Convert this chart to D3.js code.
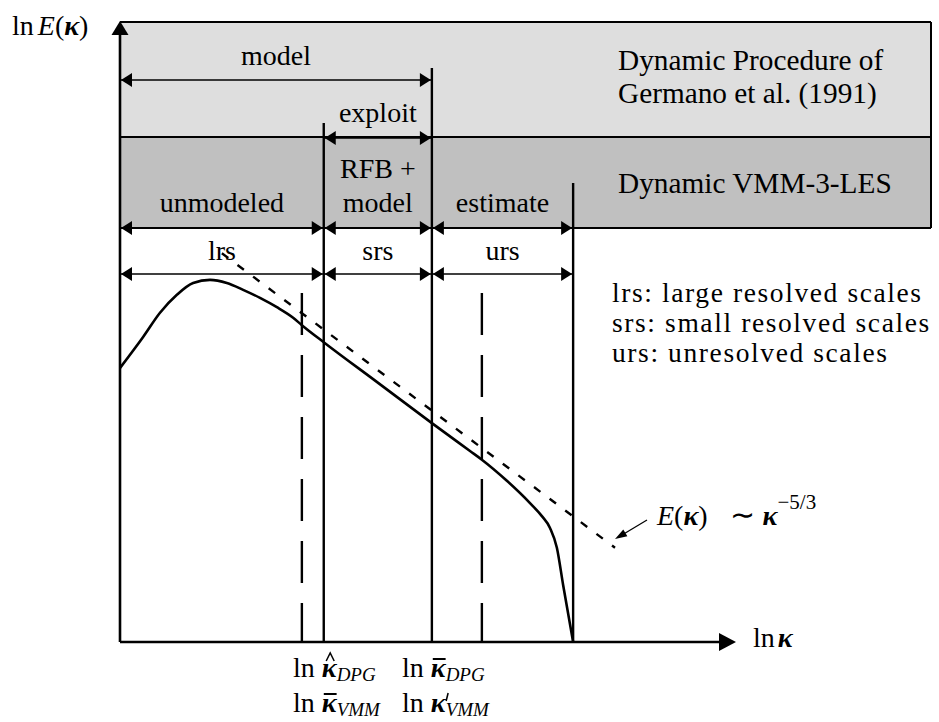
<!DOCTYPE html>
<html><head><meta charset="utf-8">
<script src="https://cdn.jsdelivr.net/npm/d3@7"></script>
<style>html,body{margin:0;padding:0;background:#fff}svg{display:block}</style>
</head><body>
<svg id="chart" width="939" height="722"></svg>
<script>
// Schematic energy spectrum with the scale partitions used by the dynamic
// procedure (DPG) and by the dynamic VMM-3-LES.

// Energy spectrum (solid curve): ln κ and ln E(κ)
const lnK = [0, 0.37, 0.64, 0.91, 1.17, 1.44, 1.71, 1.97, 2.24, 2.51, 2.77, 2.91,
             3.28, 4.13, 4.99, 5.60, 5.79, 6.19, 6.56, 6.75, 6.88, 6.99, 7.09, 7.25];
const lnE = [4.42, 4.92, 5.31, 5.60, 5.79, 5.84, 5.79, 5.68, 5.55, 5.40, 5.23, 5.11,
             4.82, 4.18, 3.53, 3.08, 2.94, 2.60, 2.24, 2.03, 1.84, 1.52, 0.92, 0];

// Inertial-range reference E(κ) ~ κ^(-5/3)
const refK = [1.63, 7.92];
const refE = [6.27, 1.52];

// Cut-off wavenumbers (ln κ): κ̄_VMM, κ̄_DPG = κ'_VMM, κ_max
const solidCuts = [3.26, 4.99, 7.25];
// Cut-offs drawn dashed
const dashedCuts = [2.91, 5.79];
const dashedTop = 5.63;

// Interval labels
const dpgLabels = ["model", "exploit"];
const dpgFrom = [0, 3.26];
const dpgTo = [4.99, 4.99];
const vmmLabels = [["unmodeled"], ["RFB +", "model"], ["estimate"]];
const scaleLabels = ["lrs", "srs", "urs"];
const legendLines = ["lrs: large resolved scales", "srs: small resolved scales", "urs: unresolved scales"];
const bandTitles = [["Dynamic Procedure of", "Germano et al. (1991)"], ["Dynamic VMM-3-LES"]];

const FONT = "'Liberation Serif', 'Times New Roman', serif";
const svg = d3.select("#chart");
svg.append("rect").attr("width", 939).attr("height", 722).attr("fill", "#fff");

const x = d3.scaleLinear().domain([0, 10]).range([120, 745]);
const y = d3.scaleLinear().domain([0, 10]).range([642, 22]);

const bandLeft = 120, bandRight = 931;
const bandTop = 22, bandMid = 137, bandBottom = 228;
const rowModel = 80, rowExploit = 138, rowVMM = 228, rowScales = 274;

// shaded bands
svg.append("rect").attr("x", bandLeft).attr("y", bandTop).attr("width", bandRight - bandLeft)
  .attr("height", bandMid - bandTop).attr("fill", "#dedede");
svg.append("rect").attr("x", bandLeft).attr("y", bandMid).attr("width", bandRight - bandLeft)
  .attr("height", bandBottom - bandMid).attr("fill", "#c0c0c0");
const border = svg.append("g").attr("stroke", "#000").attr("stroke-width", 2).attr("fill", "none");
[bandTop, bandMid, bandBottom].forEach(yy =>
  border.append("line").attr("x1", bandLeft).attr("x2", bandRight).attr("y1", yy).attr("y2", yy));
border.append("line").attr("x1", bandRight).attr("x2", bandRight).attr("y1", bandTop).attr("y2", bandBottom);

// spectrum
const pts = lnK.map((k, i) => [k, lnE[i]]);
svg.append("path").datum(pts)
  .attr("d", d3.line().x(d => x(d[0])).y(d => y(d[1])).curve(d3.curveMonotoneX))
  .attr("fill", "none").attr("stroke", "#000").attr("stroke-width", 2.6);

// -5/3 reference
svg.append("line")
  .attr("x1", x(refK[0])).attr("y1", y(refE[0]))
  .attr("x2", x(refK[1])).attr("y2", y(refE[1]))
  .attr("stroke", "#000").attr("stroke-width", 2.4).attr("stroke-dasharray", "8 11.5");

// dashed cut-offs
dashedCuts.forEach(k => svg.append("line")
  .attr("x1", x(k)).attr("x2", x(k)).attr("y1", y(dashedTop)).attr("y2", y(0))
  .attr("stroke", "#000").attr("stroke-width", 2.4).attr("stroke-dasharray", "42 20"));

// solid cut-offs
const cutTops = [123, 68, 183];
solidCuts.forEach((k, i) => svg.append("line")
  .attr("x1", x(k)).attr("x2", x(k)).attr("y1", cutTops[i]).attr("y2", y(0))
  .attr("stroke", "#000").attr("stroke-width", 2.4));

function head(tipX, tipY, dx, dy, len, hw) {
  const bx = tipX - dx * len, by = tipY - dy * len;
  const px = -dy, py = dx;
  svg.append("path")
    .attr("d", `M${tipX},${tipY}L${bx + px * hw},${by + py * hw}L${bx - px * hw},${by - py * hw}Z`)
    .attr("fill", "#000");
}
function dblArrow(k1, k2, yy, sw) {
  const x1 = x(k1), x2 = x(k2);
  svg.append("line").attr("x1", x1).attr("x2", x2).attr("y1", yy).attr("y2", yy)
    .attr("stroke", "#000").attr("stroke-width", sw);
  head(x1 + 1, yy, -1, 0, 11, 7);
  head(x2 - 1, yy, 1, 0, 11, 7);
}

// axes
svg.append("line").attr("x1", x(0)).attr("x2", x(0)).attr("y1", y(0)).attr("y2", 30)
  .attr("stroke", "#000").attr("stroke-width", 2.6);
head(x(0), 21, 0, -1, 14, 8.5);
svg.append("line").attr("x1", x(0)).attr("x2", 725).attr("y1", y(0)).attr("y2", y(0))
  .attr("stroke", "#000").attr("stroke-width", 2.6);
head(736, y(0), 1, 0, 17, 9);

function txt(xx, yy, anchor, size) {
  return svg.append("text").attr("x", xx).attr("y", yy).attr("text-anchor", anchor || "start")
    .attr("font-family", FONT).attr("font-size", size || 28).attr("fill", "#000");
}

// DPG row arrows and labels
dpgLabels.forEach((lab, i) => {
  const yy = i === 0 ? rowModel : rowExploit;
  dblArrow(dpgFrom[i], dpgTo[i], yy, 1.3);
  txt((x(dpgFrom[i]) + x(dpgTo[i])) / 2, i === 0 ? 65 : 122, "middle").text(lab);
});

// VMM row and scale row
const bounds = [0, ...solidCuts];
vmmLabels.forEach((lines, i) => {
  const cx = (x(bounds[i]) + x(bounds[i + 1])) / 2;
  dblArrow(bounds[i], bounds[i + 1], rowVMM, 2);
  lines.forEach((l, j) => txt(cx, 212 - (lines.length - 1 - j) * 34, "middle").text(l));
});
scaleLabels.forEach((lab, i) => {
  const cx = (x(bounds[i]) + x(bounds[i + 1])) / 2;
  dblArrow(bounds[i], bounds[i + 1], rowScales, 1.3);
  txt(cx, 260, "middle").text(lab);
});

// band titles
txt(618, 70, "start", 29.3).text(bandTitles[0][0]);
txt(618, 103, "start", 29.3).text(bandTitles[0][1]);
txt(618, 193, "start", 29.3).text(bandTitles[1][0]);

// legend
legendLines.forEach((l, i) => txt(612, 302 + i * 30, "start", 27.5)
  .attr("letter-spacing", 1.6).text(l));

// axis titles
const yl = txt(12, 35);
yl.append("tspan").text("ln");
yl.append("tspan").attr("dx", 4).attr("font-style", "italic").text("E");
yl.append("tspan").text("(");
yl.append("tspan").attr("font-style", "italic").attr("font-weight", "bold").text("κ");
yl.append("tspan").text(")");

const xl = txt(753, 647);
xl.append("tspan").text("ln");
xl.append("tspan").attr("dx", 3).attr("font-style", "italic").attr("font-weight", "bold").text("κ");

// cut-off labels
function kLabel(xx, base, accent, sub) {
  const t = txt(xx, base);
  t.append("tspan").text("ln");
  t.append("tspan").attr("dx", 7).attr("font-style", "italic").attr("font-weight", "bold").text("κ");
  t.append("tspan").attr("dy", 4).attr("font-style", "italic").attr("font-size", 19).text(sub);
  const e = t.node().getExtentOfChar(2);
  const cx = e.x + e.width / 2 + 1;
  const g = svg.append("g").attr("stroke", "#000").attr("fill", "none").attr("stroke-width", 1.5);
  if (accent === "hat") {
    g.append("path").attr("d", `M${cx - 4},${base - 16}L${cx},${base - 24}L${cx + 4},${base - 16}`);
  } else if (accent === "bar") {
    g.append("line").attr("x1", e.x + 2).attr("x2", e.x + e.width).attr("y1", base - 18).attr("y2", base - 18)
      .attr("stroke-width", 2);
  } else if (accent === "prime") {
    const px = e.x + e.width + 1;
    g.append("line").attr("x1", px + 1.5).attr("x2", px - 0.5).attr("y1", base - 19).attr("y2", base - 11)
      .attr("stroke-width", 1.5);
  }
}
kLabel(293, 677, "hat", "DPG");
kLabel(293, 712, "bar", "VMM");
kLabel(402, 677, "bar", "DPG");
kLabel(402, 712, "prime", "VMM");

// -5/3 annotation
const an = txt(657, 525);
an.append("tspan").attr("font-style", "italic").text("E");
an.append("tspan").text("(");
an.append("tspan").attr("font-style", "italic").attr("font-weight", "bold").text("κ");
an.append("tspan").text(")");
an.append("tspan").attr("dx", 22).attr("font-size", 30).text("∼");
an.append("tspan").attr("dx", 8).attr("font-style", "italic").attr("font-weight", "bold").text("κ");
an.append("tspan").attr("dy", -16).attr("font-size", 21).text("−5/3");
svg.append("line").attr("x1", 647).attr("y1", 520).attr("x2", 622).attr("y2", 535)
  .attr("stroke", "#000").attr("stroke-width", 1.3);
head(615, 539, -0.86, 0.51, 12, 4);
</script>
</body></html>
